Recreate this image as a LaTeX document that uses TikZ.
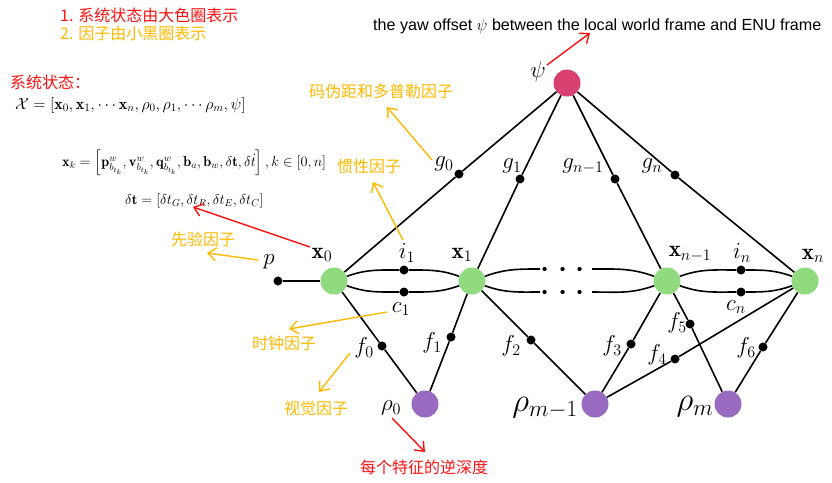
\RequirePackage{fix-cm}
\documentclass[tikz,border=0pt]{standalone}
\usepackage{fontspec}
\usepackage{amsmath}
\usepackage{amssymb}
\usetikzlibrary{arrows.meta}
\newfontfamily\cjk{Noto Sans CJK SC}
\newfontfamily\arialf{Liberation Sans}
\definecolor{stategreen}{RGB}{144,218,128}
\definecolor{yawred}{RGB}{216,64,112}
\definecolor{depthpurple}{RGB}{152,106,192}
\definecolor{factorange}{RGB}{255,185,0}
\definecolor{notered}{RGB}{255,16,16}

\begin{document}
\begin{tikzpicture}[x=1pt,y=1pt,
  statenode/.style={circle,fill=stategreen,minimum size=27pt,inner sep=0pt},
  yawnode/.style={circle,fill=yawred,minimum size=27pt,inner sep=0pt},
  depthnode/.style={circle,fill=depthpurple,minimum size=27pt,inner sep=0pt},
  factordot/.style={circle,fill=black,minimum size=9pt,inner sep=0pt},
  edge/.style={draw=black,line width=1.6pt},
  mathlab/.style={inner sep=0pt,font=\fontsize{23}{27}\selectfont},
  biglab/.style={inner sep=0pt,font=\fontsize{33}{38}\selectfont},
  cnlab/.style={inner sep=0pt,font=\cjk\fontsize{16}{19}\selectfont},
  notearrow/.style={line width=1.4pt,-{Straight Barb[length=8pt,width=13pt]}},
]
\useasboundingbox (0,0) rectangle (832,-482);
% objects at depth 50: variables
\node[yawnode] (psi) at (567,-83) {};
\node[statenode] (x0) at (334,-281) {};
\node[statenode] (x1) at (472,-281) {};
\node[statenode] (xn1) at (667,-281) {};
\node[statenode] (xn) at (805,-281) {};
\node[depthnode] (rho0) at (425,-404) {};
\node[depthnode] (rhom1) at (595,-404) {};
\node[depthnode] (rhom) at (728,-404) {};
% objects at depth 40: factors
\node[factordot] (p) at (278,-281) {};
\node[factordot] (g0) at (459,-174) {};
\node[factordot] (g1) at (520,-179) {};
\node[factordot] (gn1) at (615,-179) {};
\node[factordot] (gn) at (675,-175) {};
\node[factordot] (i1) at (404,-270) {};
\node[factordot] (c1) at (404,-292) {};
\node[factordot] (in) at (741,-270) {};
\node[factordot] (cn) at (741,-292) {};
\node[factordot] (f0) at (382,-346) {};
\node[factordot] (f1) at (451,-337) {};
\node[factordot] (f2) at (531,-340) {};
\node[factordot] (f3) at (631,-344) {};
\node[factordot] (f4) at (675,-359) {};
\node[factordot] (f5) at (690,-324) {};
\node[factordot] (f6) at (763,-347) {};
\coordinate (dul) at (540,-269);
\coordinate (dll) at (540,-292);
\coordinate (dur) at (592,-269);
\coordinate (dlr) at (592,-292);
\node[font=\fontsize{40}{40}\selectfont,inner sep=0pt,anchor=base] (hdu) at (566,-279) {$\cdots$};
\node[font=\fontsize{40}{40}\selectfont,inner sep=0pt,anchor=base] (hdl) at (566,-302) {$\cdots$};
% objects at depth 30: edges
\draw[edge] (psi) -- (g0) -- (x0);
\draw[edge] (psi) -- (g1) -- (x1);
\draw[edge] (psi) -- (gn1) -- (xn1);
\draw[edge] (psi) -- (gn) -- (xn);
\draw[edge] (p) -- (x0);
\draw[edge] (x0) to[out=20,in=180] (i1) to[out=0,in=160] (x1);
\draw[edge] (x0) to[out=-20,in=180] (c1) to[out=0,in=-160] (x1);
\draw[edge] (x1) to[out=20,in=180] (dul);
\draw[edge] (x1) to[out=-20,in=180] (dll);
\draw[edge] (dur) to[out=0,in=160] (xn1);
\draw[edge] (dlr) to[out=0,in=-160] (xn1);
\draw[edge] (xn1) to[out=20,in=180] (in) to[out=0,in=160] (xn);
\draw[edge] (xn1) to[out=-20,in=180] (cn) to[out=0,in=-160] (xn);
\draw[edge] (x0) -- (f0) -- (rho0);
\draw[edge] (x1) -- (f1) -- (rho0);
\draw[edge] (x1) -- (f2) -- (rhom1);
\draw[edge] (xn1) -- (f3) -- (rhom1);
\draw[edge] (xn) -- (f4) -- (rhom1);
\draw[edge] (xn1) -- (f5) -- (rhom);
\draw[edge] (xn) -- (f6) -- (rhom);
% objects at depth 20: labels
\node[mathlab] (lpsi) at (538,-72) {$\psi$};
\node[mathlab] (lx0) at (322,-255) {$\mathbf{x}_0$};
\node[mathlab] (lx1) at (462,-255) {$\mathbf{x}_1$};
\node[mathlab] (lxn1) at (690,-254) {$\mathbf{x}_{n-1}$};
\node[mathlab] (lxn) at (813,-256) {$\mathbf{x}_n$};
\node[mathlab] (lp) at (269,-262) {$p$};
\node[mathlab] (lg0) at (444,-164) {$g_0$};
\node[mathlab] (lg1) at (512,-166) {$g_1$};
\node[mathlab] (lgn1) at (583,-166) {$g_{n-1}$};
\node[mathlab] (lgn) at (652,-166) {$g_n$};
\node[mathlab] (li1) at (407,-253) {$i_1$};
\node[mathlab] (lc1) at (401,-309) {$c_1$};
\node[mathlab] (lin) at (742,-253) {$i_n$};
\node[mathlab] (lcn) at (736,-307) {$c_n$};
\node[mathlab] (lf0) at (364,-348) {$f_0$};
\node[mathlab] (lf1) at (432,-343) {$f_1$};
\node[mathlab] (lf2) at (511,-346) {$f_2$};
\node[mathlab] (lf3) at (612,-346) {$f_3$};
\node[mathlab] (lf4) at (657,-355) {$f_4$};
\node[mathlab] (lf5) at (677,-323) {$f_5$};
\node[mathlab] (lf6) at (746,-348) {$f_6$};
\node[mathlab] (lrho0) at (391,-408) {$\rho_0$};
\node[biglab] (lrhom1) at (545,-408) {$\rho_{m-1}$};
\node[biglab] (lrhom) at (695,-407) {$\rho_m$};
% objects at depth 10: notes
\node[cnlab,text=notered,anchor=west] (title1) at (60,-15) {1. 系统状态由大色圈表示};
\node[cnlab,text=factorange,anchor=west] (title2) at (60,-33) {2. 因子由小黑圈表示};
\node[cnlab,text=notered,anchor=west] (statehead) at (10,-82) {系统状态：};
\node[inner sep=0pt,anchor=west,font=\fontsize{16}{19}\selectfont] (stateeq) at (15,-105)
  {$\mathcal{X}=[\mathbf{x}_0,\mathbf{x}_1,\cdots\mathbf{x}_n,\rho_0,\rho_1,\cdots\rho_m,\psi]$};
\node[inner sep=0pt,anchor=west,font=\fontsize{14.3}{17}\selectfont] (xkeq) at (62,-163)
  {$\mathbf{x}_k=\left[\mathbf{p}^w_{b_{t_k}},\mathbf{v}^w_{b_{t_k}},\mathbf{q}^w_{b_{t_k}},\mathbf{b}_a,\mathbf{b}_w,\delta\mathbf{t},\delta\dot{t}\right],k\in[0,n]$};
\node[inner sep=0pt,anchor=west,font=\fontsize{14.3}{17}\selectfont] (dteq) at (125,-201)
  {$\delta\mathbf{t}=[\delta t_G,\delta t_R,\delta t_E,\delta t_C]$};
\node[inner sep=0pt,anchor=west,font=\arialf\fontsize{16.1}{19}\selectfont] (yawtxt) at (373,-26)
  {the yaw offset $\psi$ between the local world frame and ENU frame};
\node[cnlab,text=factorange] (gnsstxt) at (381,-91) {码伪距和多普勒因子};
\node[cnlab,text=factorange] (imutxt) at (369,-166) {惯性因子};
\node[cnlab,text=factorange] (priortxt) at (203,-239) {先验因子};
\node[cnlab,text=factorange] (clocktxt) at (284,-343) {时钟因子};
\node[cnlab,text=factorange] (visiontxt) at (316,-408) {视觉因子};
\node[cnlab,text=notered] (depthtxt) at (424,-467) {每个特征的逆深度};
% arrows
\coordinate (yawfrom) at (547,-65);
\coordinate (yawto) at (590,-33);
\coordinate (dtfrom) at (310,-247);
\coordinate (dtto) at (193,-207);
\coordinate (depthfrom) at (392,-418);
\coordinate (depthto) at (425,-452);
\coordinate (gnssfrom) at (432,-160);
\coordinate (gnssto) at (387,-107);
\coordinate (imufrom) at (403,-240);
\coordinate (imuto) at (373,-182);
\coordinate (priorfrom) at (258,-260);
\coordinate (priorto) at (207,-253);
\coordinate (clockfrom) at (387,-312);
\coordinate (clockto) at (289,-329);
\coordinate (visionfrom) at (350,-353);
\coordinate (visionto) at (319,-392);
\draw[notearrow,draw=notered] (yawfrom) -- (yawto);
\draw[notearrow,draw=notered] (dtfrom) -- (dtto);
\draw[notearrow,draw=notered] (depthfrom) -- (depthto);
\draw[notearrow,draw=factorange] (gnssfrom) -- (gnssto);
\draw[notearrow,draw=factorange] (imufrom) -- (imuto);
\draw[notearrow,draw=factorange] (priorfrom) -- (priorto);
\draw[notearrow,draw=factorange] (clockfrom) -- (clockto);
\draw[notearrow,draw=factorange] (visionfrom) -- (visionto);
\end{tikzpicture}
\end{document}
